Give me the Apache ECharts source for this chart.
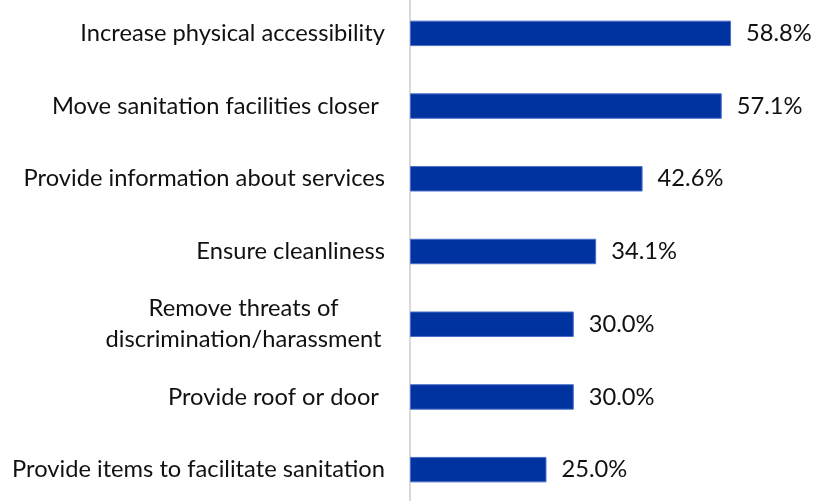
<!DOCTYPE html>
<html><head><meta charset="utf-8">
<script src="https://cdn.jsdelivr.net/npm/echarts@6/dist/echarts.min.js"></script>
<style>html,body{margin:0;padding:0;background:#fff}#c{width:815px;height:501px}</style>
</head><body><div id="c"></div>
<script>
const categories = [
  "Increase physical accessibility",
  "Move sanitation facilities closer ",
  "Provide information about services",
  "Ensure cleanliness",
  "Remove threats of\ndiscrimination/harassment",
  "Provide roof or door ",
  "Provide items to facilitate sanitation"
];
const values = [58.8, 57.1, 42.6, 34.1, 30.0, 30.0, 25.0];

const FONT = "Lato";
const FS = 23.7;
const chart = echarts.init(document.getElementById('c'), null, {renderer: 'canvas'});
chart.setOption({
  animation: false,
  grid: {left: 410, right: 25, top: -3, bottom: -5, containLabel: false, outerBoundsMode: 'none'},
  xAxis: {type: 'value', min: 0, max: 69.6, show: false},
  yAxis: {
    type: 'category', inverse: true, data: categories,
    axisLine: {show: true, lineStyle: {color: '#d9d9d9', width: 2}},
    axisTick: {show: false},
    axisLabel: {
      margin: 25, color: '#111', fontFamily: FONT, fontSize: FS, lineHeight: 31,
      formatter: function (v) {
        if (v.indexOf('\n') >= 0) return v.split('\n').map(s => '{c|' + s + '}').join('\n');
        return v;
      },
      rich: {c: {width: 283, align: 'center', fontFamily: FONT, fontSize: FS, color: '#111', lineHeight: 31}}
    }
  },
  series: [{
    type: 'bar', data: values, barWidth: '35%',
    itemStyle: {color: '#0033a0', borderColor: '#4a6fc8', borderWidth: 1},
    label: {show: true, position: 'right', distance: 15, color: '#111', fontFamily: FONT, fontSize: FS,
      formatter: p => p.value.toFixed(1) + '%'}
  }]
});
</script></body></html>
